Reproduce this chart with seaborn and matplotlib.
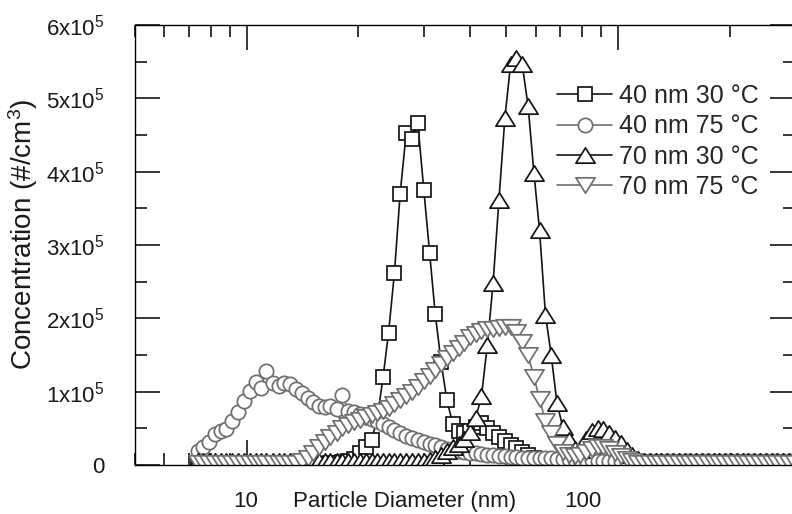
import numpy as np
import matplotlib
matplotlib.use("Agg")
import matplotlib.pyplot as plt
from matplotlib.path import Path
from matplotlib.ticker import FixedLocator, FixedFormatter, LogLocator, MultipleLocator, NullFormatter
import seaborn as sns

sns.set_style("ticks")
plt.rcParams["font.family"] = ["Liberation Sans", "DejaVu Sans"]
plt.rcParams["mathtext.fontset"] = "custom"
plt.rcParams["mathtext.rm"] = "Liberation Sans"
plt.rcParams["mathtext.default"] = "regular"

# SMPS channel midpoints (nm), 64 channels per decade
diameter_nm = [
    7.37, 7.64, 7.91, 8.20, 8.51, 8.82, 9.14, 9.47, 9.82, 10.2,
    10.6, 10.9, 11.3, 11.8, 12.2, 12.6, 13.1, 13.6, 14.1, 14.6,
    15.1, 15.7, 16.3, 16.8, 17.5, 18.1, 18.8, 19.5, 20.2, 20.9,
    21.7, 22.5, 23.3, 24.1, 25.0, 25.9, 26.9, 27.9, 28.9, 30.0,
    31.1, 32.2, 33.4, 34.6, 35.9, 37.2, 38.5, 40.0, 41.4, 42.9,
    44.5, 46.1, 47.8, 49.6, 51.4, 53.3, 55.2, 57.3, 59.4, 61.5,
    63.8, 66.1, 68.5, 71.0, 73.7, 76.4, 79.1, 82.0, 85.1, 88.2,
    91.4, 94.7, 98.2, 101.8, 105.5, 109.4, 113.4, 117.6, 121.9, 126.3,
    131.0, 135.8, 140.7, 145.9, 151.2, 156.8, 162.5, 168.5, 174.7, 181.1,
    187.7, 194.6, 201.7, 209.1, 216.7, 224.7, 232.9, 241.4, 250.3, 259.5,
    269.0, 278.8, 289.0, 299.6,
]

# number concentrations in units of 10^3 #/cm^3, one value per channel
conc_40nm_30C = [
    1, 1, 2, 1, 1, 2, 1, 1, 2, 1,
    2, 1, 1, 2, 1, 2, 1, 1, 2, 1,
    2, 2, 2, 3, 3, 4, 5, 8, 16, 24,
    34, 65, 120, 180, 262, 370, 453, 445, 466, 375,
    289, 206, 140, 89, 56, 46, 43, 46, 52, 57,
    50, 44, 38, 33, 27, 23, 18, 13, 9, 6,
    4, 3, 2, 2, 2, 2, 2, 2, 2, 2,
    2, 2, 2, 2, 2, 2, 2, 2, 2, 2,
    2, 2, 2, 2, 2, 2, 2, 2, 2, 2,
    2, 2, 2, 2, 2, 2, 2, 2, 2, 2,
    2, 2, 2, 2,
]
conc_40nm_75C = [
    19, 25, 31, 42, 47, 49, 60, 72, 87, 101,
    113, 105, 128, 112, 108, 112, 110, 104, 98, 92,
    86, 81, 79, 80, 76, 95, 74, 72, 69, 66,
    63, 60, 56, 52, 48, 44, 40, 37, 34, 31,
    29, 27, 25, 22, 20, 19, 18, 17, 16, 15,
    14, 13, 12, 12, 11, 11, 10, 10, 10, 9,
    9, 9, 8, 8, 8, 7, 7, 7, 7, 6,
    6, 5, 5, 5, 5, 5, 5, 5, 5, 5,
    5, 5, 5, 5, 5, 5, 5, 5, 5, 5,
    5, 5, 5, 5, 5, 5, 5, 5, 5, 5,
    5, 5, 5, 5,
]
conc_70nm_30C = [
    6, 6, 6, 6, 6, 6, 6, 6, 6, 6,
    6, 6, 6, 6, 6, 6, 6, 6, 6, 6,
    6, 6, 6, 6, 6, 6, 6, 6, 6, 6,
    6, 6, 6, 6, 6, 6, 6, 6, 6, 6,
    7, 10, 14, 19, 24, 29, 35, 45, 64, 94,
    164, 248, 361, 473, 547, 555, 547, 489, 398, 320,
    205, 150, 85, 52, 34, 22, 20, 35, 47, 50,
    49, 43, 37, 30, 21, 13, 8, 6, 6, 6,
    6, 6, 6, 6, 6, 6, 6, 6, 6, 6,
    6, 6, 6, 6, 6, 6, 6, 6, 6, 6,
    6, 6, 6, 6,
]
conc_70nm_75C = [
    3, 3, 3, 3, 3, 3, 3, 3, 3, 3,
    3, 3, 3, 3, 3, 3, 3, 3, 6, 10,
    16, 24, 31, 38, 44, 50, 55, 59, 62, 65,
    68, 71, 74, 78, 83, 88, 94, 100, 107, 114,
    122, 130, 138, 146, 153, 160, 167, 174, 179, 183,
    185, 186, 187, 188, 188, 182, 168, 150, 120, 90,
    60, 43, 28, 18, 13, 12, 14, 18, 22, 25,
    25, 22, 17, 12, 8, 5, 3, 3, 3, 3,
    3, 3, 3, 3, 3, 3, 3, 3, 3, 3,
    3, 3, 3, 3, 3, 3, 3, 3, 3, 3,
    3, 3, 3, 3,
]

series_labels = ["40 nm 30 °C", "40 nm 75 °C", "70 nm 30 °C", "70 nm 75 °C"]
y_tick_values = [0, 1e5, 2e5, 3e5, 4e5, 5e5, 6e5]
y_tick_labels = ["0", "1x10$^5$", "2x10$^5$", "3x10$^5$", "4x10$^5$", "5x10$^5$", "6x10$^5$"]

# marker shapes: open squares, circles and flattened up/down triangles
tri_up = Path([(0, 0.8), (-1, -0.8), (1, -0.8), (0, 0.8)],
              [Path.MOVETO, Path.LINETO, Path.LINETO, Path.CLOSEPOLY])
tri_down = Path([(0, -0.8), (-1, 0.8), (1, 0.8), (0, -0.8)],
                [Path.MOVETO, Path.LINETO, Path.LINETO, Path.CLOSEPOLY])

BLACK = "#141414"
GREY = "#6f6f6f"
styles = [
    dict(marker="s", ms=9.8, color=BLACK),
    dict(marker="o", ms=10.3, color=GREY),
    dict(marker=tri_up, ms=13.8, color=BLACK),
    dict(marker=tri_down, ms=13.8, color=GREY),
]
series = [conc_40nm_30C, conc_40nm_75C, conc_70nm_30C, conc_70nm_75C]

W, H = 792, 514
fig = plt.figure(figsize=(W / 100, H / 100), dpi=100)
ax = fig.add_axes([135 / W, 1 - 465 / H, 660 / W, 440 / H])

d = np.array(diameter_nm)
for vals, lab, st in zip(series, series_labels, styles):
    sns.lineplot(x=d, y=np.array(vals) * 1e3, ax=ax, estimator=None, sort=False,
                 color=st["color"], lw=1.2, marker=st["marker"], ms=st["ms"],
                 mfc="white", mec=st["color"], mew=1.25, label=lab)

ax.set_xscale("log")
ax.set_xlim(5, 300)
ax.set_ylim(0, 6e5)

ax.xaxis.set_major_locator(FixedLocator([10, 100]))
ax.xaxis.set_minor_locator(LogLocator(base=10, subs=np.arange(2, 10)))
ax.xaxis.set_major_formatter(NullFormatter())
ax.xaxis.set_minor_formatter(NullFormatter())
ax.yaxis.set_major_locator(FixedLocator(y_tick_values))
ax.yaxis.set_major_formatter(FixedFormatter(y_tick_labels))
ax.yaxis.set_minor_locator(MultipleLocator(5e4))

ax.tick_params(which="both", direction="in", top=True, right=True,
               color="black", width=1.1)
ax.tick_params(which="major", length=18)
ax.tick_params(which="minor", length=8.5)
ax.tick_params(axis="y", which="major", labelsize=16, pad=22, labelcolor="#1a1a1a")
for s in ax.spines.values():
    s.set_linewidth(1.0)
    s.set_color("black")
ax.set_xlabel("")
ax.set_ylabel("")

# x-axis annotation row
fig.text(246 / W, 1 - 507 / H, "10", ha="center", va="baseline", fontsize=16, color="#1a1a1a")
fig.text(583 / W, 1 - 507 / H, "100", ha="center", va="baseline", fontsize=16, color="#1a1a1a")
fig.text(405 / W, 1 - 507 / H, "Particle Diameter (nm)", ha="center", va="baseline",
         fontsize=16, color="#1a1a1a")
fig.text(23 / W, 1 - 234 / H, "Concentration (#/cm$^3$)", rotation=90,
         ha="center", va="center", fontsize=20, color="#1a1a1a")

handles, labels = ax.get_legend_handles_labels()
ax.legend(handles, labels, loc="upper left", bbox_to_anchor=(557 / W, 1 - 84 / H),
          bbox_transform=fig.transFigure, frameon=False, fontsize=18,
          handlelength=2.2, handletextpad=0.28, labelspacing=0.25,
          borderpad=0, borderaxespad=0, numpoints=1)

fig.savefig("out.png", dpi=100)
